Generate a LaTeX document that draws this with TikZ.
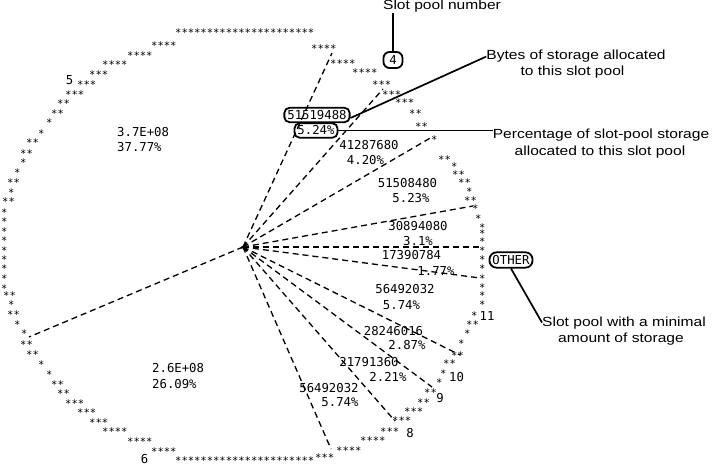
\documentclass[tikz,border=0pt]{standalone}
\usepackage{fontspec}
\newfontfamily\rimfont{DejaVu Sans Mono}
\newfontfamily\notefont[FakeStretch=1.18]{Liberation Sans}
\newcommand\rimstars[1]{\raisebox{-4.1pt}[3.9pt][0pt]{#1}}
\tikzset{
  pie/.style={dash pattern=on 6pt off 4pt,line width=1.3pt},
  rim/.style={font=\rimfont\fontsize{10.5}{10.5}\selectfont,anchor=base west,inner sep=0pt},
  val/.style={font=\rimfont\fontsize{12.3}{14}\selectfont,inner sep=0pt},
  tag/.style={val,draw,line width=1.8pt,rounded corners=5pt,inner xsep=3pt,inner ysep=2.5pt},
  note/.style={font=\notefont\fontsize{13.2}{16}\selectfont,inner sep=0pt,anchor=base},
  lead/.style={line width=1.7pt}
}
\begin{document}
\begin{tikzpicture}[x=1pt,y=-1pt]
\useasboundingbox (0,0) rectangle (713,468);
% rim of the pie
\foreach \x/\y/\s [count=\i] in {176/30.7/**********************,152/43.3/****,128/53.7/****,
  103/62.7/****,90/72.7/***,78/82/***,66/92/***,58/101/**,52/111.7/**,47/120.7/*,39/131/*,
  27/140.7/**,21/151/**,21/160.5/*,15/170.7/*,8/180/**,9/190/*,3/199/**,2/210/*,2/219/*,
  2/229/*,2/238/*,2/248.7/*,2/257/*,2/266.7/*,2/276.7/*,2/286/*,4/293/**,9/302.7/*,
  8/312/**,15/322.7/*,22/331.7/*,21/342/**,27/352/**,39/362/*,47/372/*,
  52/382/**,58/391/**,66/401/***,78/410/***,90/420/***,103/429.7/****,128/439/****,
  152/449/****,176/458/**********************,316/455/***,337/448.3/****,361/438/****,
  381/429/***,393/418/***,405/409/***,418/400/**,425/390.7/**,437/380.7/*,441/371.7/*,
  444/361.7/**,452/353.3/**,459/341.7/*,465/331.7/*,467/322.7/**,472/313.3/*,
  480/302/*,480/293.3/*,480/285/*,480/276.7/*,480/266.7/*,480/257.7/*,480/248.3/*,
  480/239.3/*,480/231.7/*,480/225/*,476/216/*,473/206.7/*,465/198/**,467/189/*,459/180/**,
  453/172.3/**,452/164/*,439/157/**,432/137/*,416/124.3/**,410/111.7/**,
  396/100.7/***,383/92.7/***,373/82.3/***,353/70.7/****,331/61.7/****,312/46/****}
  \node[rim] (r\i) at (\x-1,\y+2) {\rimstars{\s}};
\node[rim] (hub) at (239.8,249) {\rimstars{*}};
\coordinate (c) at (243,247);
\foreach \x/\y [count=\i] in {29/337,331/449,395/421,432/387,460/355,480/278,480/247,
  473/206,432/137,383/89,332/53}
  \coordinate (e\i) at (\x,\y);
\foreach \i in {1,...,11} \draw[pie] (c) -- (e\i);
% values
\node[val,anchor=west] (big1) at (117,132) {3.7E+08};
\node[val,anchor=west] (pct1) at (117,147) {37.77\%};
\node[val,anchor=west] (big2) at (152,368) {2.6E+08};
\node[val,anchor=west] (pct2) at (152,384) {26.09\%};
\foreach \x/\y/\t [count=\i] in {369/145/41287680,365.5/160/4.20\%,407.5/183/51508480,
  411/198/5.23\%,418/226.5/30894080,418/241/3.1\%,411.5/255.5/17390784,436/271/1.77\%,
  405/289.5/56492032,401.5/305/5.74\%,393.5/331/28246016,407/345.5/2.87\%,
  369/362/21791360,388/377/2.21\%,329/388/56492032,340/402.5/5.74\%}
  \node[val] (v\i) at (\x,\y) {\t};
\foreach \x/\y/\t [count=\i] in {69.5/80/5,144.5/458.7/6,410/432.7/8,440/397.7/9,
  456.5/376.7/10,487/316/11}
  \node[val] (n\i) at (\x,\y) {\t};
\node[tag] (b515) at (317,115) {51519488};
\node[tag] (b524) at (316,130.5) {5.24\%};
\node[tag,rounded corners=6pt,minimum width=19pt,minimum height=16pt] (b4) at (393,60) {4};
\node[tag,rounded corners=7pt,inner ysep=3pt] (other) at (511,260) {OTHER};
% notes
\node[note] (slotnum) at (442,10) {Slot pool number};
\node[note] (bytesA) at (576,60) {Bytes of storage allocated};
\node[note] (bytesB) at (572.5,76) {to this slot pool};
\node[note] (pctA) at (601,139) {Percentage of slot-pool storage};
\node[note] (pctB) at (600,156) {allocated to this slot pool};
\node[note] (minA) at (624,326) {Slot pool with a minimal};
\node[note] (minB) at (621,342) {amount of storage};
\draw[lead] (b4.north) -- (b4.north |- slotnum.south);
\draw[lead] ([yshift=-3pt]b515.east) -- (bytesA.west);
\draw[lead] (b524.east) -- (b524.east -| pctA.west);
\draw[lead] (other.south) -- (minA.west);
\end{tikzpicture}
\end{document}
